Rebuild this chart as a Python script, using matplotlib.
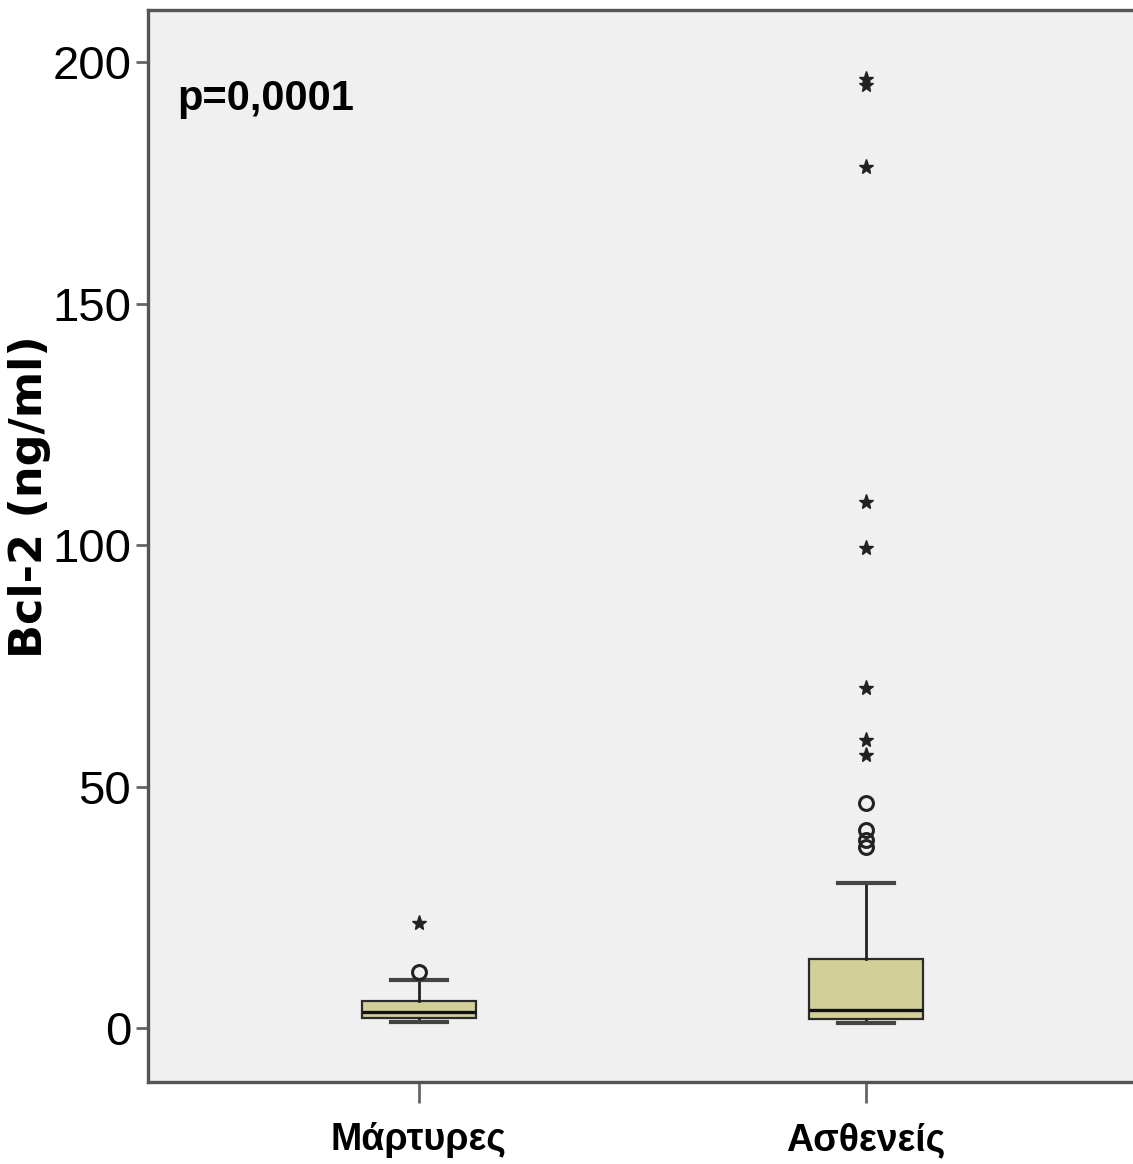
import matplotlib
matplotlib.use("Agg")
import matplotlib.pyplot as plt

# ---------------------------------------------------------------------------
# Data
# ---------------------------------------------------------------------------
groups   = ["Μάρτυρες", "Ασθενείς"]
q1       = [2.0, 1.8]
medians  = [3.3, 3.8]
q3       = [5.7, 14.2]
whis_lo  = [1.3, 1.0]
whis_hi  = [9.9, 30.1]
circles  = [[11.7], [46.5, 41.0, 39.0, 37.5]]                      # mild outliers
stars    = [[21.8], [196.5, 195.3, 178.3, 109.0, 99.3, 70.3, 59.6, 56.5]]  # extreme

yticks   = [0, 50, 100, 150, 200]
p_text   = "p=0,0001"
ylabel   = "Bcl-2 (ng/ml)"

BOX_FILL = "#d3cf98"
BG       = "#f0f0f0"
SPINE    = "#555555"
SANS     = ["Liberation Sans", "DejaVu Sans"]

# ---------------------------------------------------------------------------
# Figure
# ---------------------------------------------------------------------------
fig = plt.figure(figsize=(11.33, 11.64), dpi=100)
ax = fig.add_axes([0.1306, 0.0704, 0.8694, 0.9210])
ax.set_facecolor(BG)

positions = [1, 2]
stats = []
for i, g in enumerate(groups):
    stats.append(dict(label=g, q1=q1[i], med=medians[i], q3=q3[i],
                      whislo=whis_lo[i], whishi=whis_hi[i], fliers=[]))

ax.bxp(stats, positions=positions, widths=0.255, showfliers=False,
       patch_artist=True, capwidths=0.125,
       boxprops=dict(facecolor=BOX_FILL, edgecolor="#2b2b2b", linewidth=1.6),
       medianprops=dict(color="#111111", linewidth=2.4),
       whiskerprops=dict(color="#222222", linewidth=2.0),
       capprops=dict(color="#444444", linewidth=3.0))

for pos, c, s in zip(positions, circles, stars):
    ax.plot([pos] * len(c), c, linestyle="none", marker="o", markersize=10,
            markerfacecolor="none", markeredgecolor="#222222", markeredgewidth=2.2)
    ax.plot([pos] * len(s), s, linestyle="none", marker="*", markersize=11,
            color="#222222")

ax.set_xlim(0.394, 2.597)
ax.set_ylim(-11.18, 210.77)
ax.set_xticks(positions)
ax.set_xticklabels(groups)
ax.set_yticks(yticks)
ax.set_yticklabels([str(v) for v in yticks])

for lbl in ax.get_yticklabels():
    lbl.set_family(SANS)
    lbl.set_fontsize(34)
for lbl in ax.get_xticklabels():
    lbl.set_family(SANS)
    lbl.set_fontweight("bold")
    lbl.set_fontsize(27)

ax.tick_params(axis="y", length=9, width=2, color="#666666", pad=3)
ax.tick_params(axis="x", length=15, width=2, color="#666666", pad=14)

for side in ("left", "bottom", "top"):
    ax.spines[side].set_color(SPINE)
    ax.spines[side].set_linewidth(2.4)
ax.spines["right"].set_visible(False)

ax.text(0.030, 0.9067, p_text, transform=ax.transAxes, ha="left", va="baseline",
        family=SANS, fontweight="bold", fontsize=30)

fig.text(30 / 1133, 1 - 497 / 1164, ylabel, rotation=90, ha="center", va="center",
         family="DejaVu Sans", fontweight="bold", fontsize=32)

fig.savefig("out.png", dpi=100, facecolor="white")
